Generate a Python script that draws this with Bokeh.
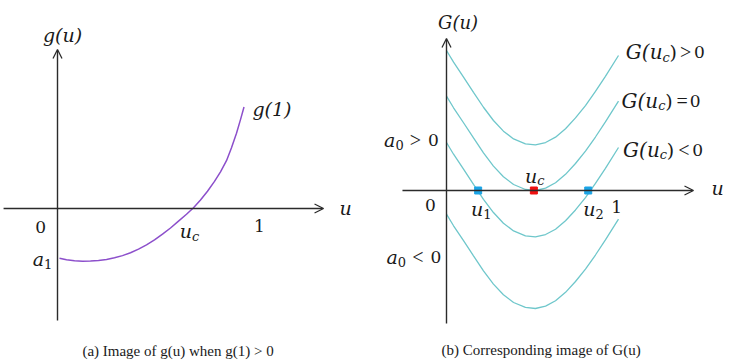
from bokeh.plotting import figure
from bokeh.layouts import row
from bokeh.models import Range1d, Arrow, OpenHead
from bokeh.core.properties import value
from bokeh.embed import file_html
from bokeh.resources import INLINE

# ---------------- data ----------------
# panel (a): g(u)
left_u = [0.0099, 0.0446, 0.0842, 0.1238, 0.1634, 0.2030, 0.2426, 0.2822, 0.3218,
          0.3614, 0.4010, 0.4406, 0.4802, 0.5198, 0.5594, 0.5990, 0.6386, 0.6733,
          0.7079, 0.7426, 0.7772, 0.8069, 0.8366, 0.8614, 0.8861, 0.9059, 0.9233]
left_g = [-0.2460, -0.2540, -0.2589, -0.2609, -0.2604, -0.2574, -0.2520, -0.2441, -0.2332,
          -0.2188, -0.2010, -0.1797, -0.1550, -0.1272, -0.0965, -0.0624, -0.0287, 0.0040,
          0.0421, 0.0856, 0.1342, 0.1817, 0.2366, 0.3010, 0.3728, 0.4401, 0.5025]

# panel (b): G(u) family – common profile (drop below G(0)) and the four starting values
right_u = [0, 0.041, 0.099, 0.157, 0.215, 0.273, 0.331, 0.390, 0.459, 0.517,
           0.576, 0.634, 0.692, 0.750, 0.808, 0.866, 0.924, 1.0]
right_drop = [0, 0.068, 0.155, 0.243, 0.330, 0.407, 0.469, 0.514, 0.543, 0.549,
              0.535, 0.504, 0.455, 0.392, 0.320, 0.238, 0.150, 0.029]
right_starts = [0.814, 0.549, 0.279, -0.137]

roots_u = [0.184, 0.824]      # u1, u2
uc_value = [0.508]            # u_c

SERIF = "DejaVu Serif"
TIMES = "Liberation Serif"
INK = "#1a1a1a"
AX = "#2b2b2b"


def make_fig(xr, yr):
    p = figure(width=366, height=364, x_range=Range1d(*xr), y_range=Range1d(*yr),
               output_backend="svg", toolbar_location=None,
               x_axis_location=None, y_axis_location=None, min_border=0)
    p.outline_line_color = None
    p.xgrid.visible = False
    p.ygrid.visible = False
    return p


def axis_arrow(p, x0, y0, x1, y1):
    p.add_layout(Arrow(end=OpenHead(size=9, line_width=1.3, line_color=AX),
                       x_start=x0, y_start=y0, x_end=x1, y_end=y1,
                       line_width=1.4, line_color=AX))


def label(p, x, y, parts):
    # parts: (text, font, size, style, align, dx, dy)
    for t, font, size, style, align, dx, dy in parts:
        p.text(x=[x], y=[y], text=[t], text_font=value(font), text_font_size=f"{size}px",
               text_font_style=style, text_align=align, text_baseline="middle",
               x_offset=dx, y_offset=dy, text_color=INK)


def sub_label(p, x, y, base, sub, sub_style="normal"):
    label(p, x, y, [(base, SERIF, 19, "italic", "right", 0, 0),
                    (sub, SERIF, 13, sub_style, "left", 0, 5)])


def rel_label(p, x, y, base, sub, sub_style, tail, rel, d_rel, d_zero, size=19):
    parts = [(base, SERIF, size, "italic", "right", 0, 0),
             (sub, SERIF, 13, sub_style, "left", 0, 5)]
    if tail:
        parts.append((tail, SERIF, size - 1, "normal", "left", 7, 0))
    parts.append((rel, TIMES, 20, "normal", "center", d_rel, 0))
    parts.append(("0", SERIF, 17, "normal", "center", d_zero, 0))
    label(p, x, y, parts)


# ---------------- panel (a) ----------------
pa = make_fig((-0.2822, 1.5297), (-0.7723, 1.0297))
axis_arrow(pa, -0.267, 0, 1.317, 0)
axis_arrow(pa, 0, -0.554, 0, 0.787)
pa.line(left_u, left_g, line_color="#8c4fcb", line_width=1.5)

label(pa, 0.025, 0.861, [("g(u)", SERIF, 19, "italic", "center", 0, 0)])
label(pa, 0.965, 0.495, [("g(1)", SERIF, 19, "italic", "left", 0, 0)])
label(pa, -0.084, -0.094, [("0", SERIF, 17, "normal", "center", 0, 0)])
label(pa, 1.0, -0.089, [("1", SERIF, 17, "normal", "center", 0, 0)])
label(pa, 1.426, 0.0, [("u", SERIF, 19, "italic", "center", 0, 0)])
sub_label(pa, 0.666, -0.112, "u", "c", "italic")
sub_label(pa, -0.067, -0.249, "a", "1")
pa.text(x=[0.606], y=[-0.703], text=["(a)  Image of g(u) when g(1) > 0"], text_font=value(TIMES),
        text_font_size="15px", text_align="center", text_baseline="middle", text_color=INK)

# ---------------- panel (b) ----------------
pb = make_fig((-0.4651, 1.6628), (-1.0116, 1.1047))
axis_arrow(pb, -0.256, 0, 1.436, 0)
axis_arrow(pb, 0, -0.773, 0, 0.884)
for s in right_starts:
    pb.line(right_u, [s - d for d in right_drop], line_color="#6fc7cb", line_width=1.3)

pb.scatter(roots_u, [0, 0], marker="square", size=7, fill_color="#1ba4e6", line_color="#1ba4e6")
pb.scatter(uc_value, [0], marker="square", size=7, fill_color="#ee1111", line_color="#ee1111")

label(pb, 0.067, 0.974, [("G(u)", SERIF, 18, "italic", "center", 0, 0)])
label(pb, 1.576, 0.017, [("u", SERIF, 19, "italic", "center", 0, 0)])
label(pb, -0.093, -0.087, [("0", SERIF, 17, "normal", "center", 0, 0)])
label(pb, 0.99, -0.093, [("1", SERIF, 17, "normal", "center", 0, 0)])
rel_label(pb, -0.297, 0.291, "a", "0", "normal", None, ">", 20, 38)
rel_label(pb, -0.283, -0.388, "a", "0", "normal", None, "<", 20, 38)
sub_label(pb, 0.213, -0.110, "u", "1")
sub_label(pb, 0.866, -0.110, "u", "2")
sub_label(pb, 0.527, 0.087, "u", "c", "italic")
rel_label(pb, 1.256, 0.804, "G(u", "c", "italic", ")", ">", 23, 37, size=20)
rel_label(pb, 1.231, 0.523, "G(u", "c", "italic", ")", "=", 24, 37, size=20)
rel_label(pb, 1.240, 0.237, "G(u", "c", "italic", ")", "<", 24, 38, size=20)
pb.text(x=[0.561], y=[-0.930], text=["(b)  Corresponding image of G(u)"], text_font=value(TIMES),
        text_font_size="15px", text_align="center", text_baseline="middle", text_color=INK)

layout = row(pa, pb)
open("out.html", "w").write(file_html(layout, INLINE))
